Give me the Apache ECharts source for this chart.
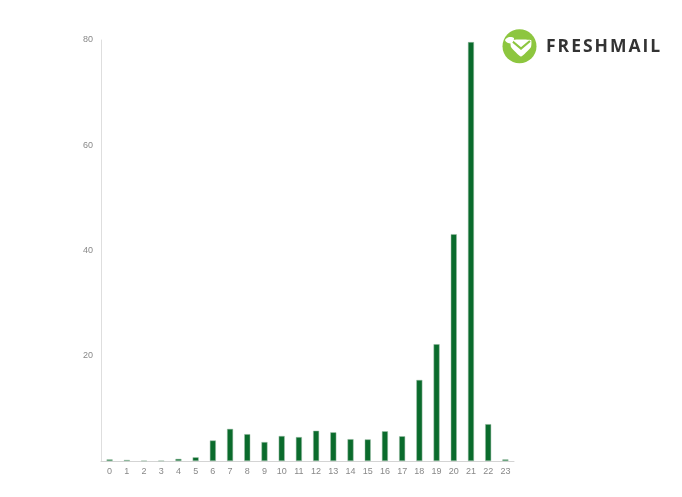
<!DOCTYPE html>
<html><head><meta charset="utf-8">
<script src="https://cdn.jsdelivr.net/npm/echarts@6/dist/echarts.min.js"></script>
<style>html,body{margin:0;padding:0;background:#fff}#c{width:682px;height:497px}</style>
</head><body><div id="c"></div>
<script>
const hours = ['0','1','2','3','4','5','6','7','8','9','10','11','12','13','14','15','16','17','18','19','20','21','22','23'];
const values = [0.3,0.2,0.05,0.05,0.4,0.7,3.9,6.1,5.1,3.6,4.75,4.55,5.75,5.45,4.15,4.1,5.65,4.7,15.4,22.2,43.1,79.6,7.0,0.3];
const yTicks = [0,20,40,60,80];
const brand = 'FRESHMAIL';

// logo text laid out letter by letter with extra spacing
const ctx = document.createElement('canvas').getContext('2d');
const logoFont = 'bold 17.5px "Open Sans"';
ctx.font = logoFont;
const letters = [];
let lx = 546;
for (const ch of brand) {
  letters.push({type:'text',style:{x:lx,y:47,text:ch,fill:'#333',font:logoFont,verticalAlign:'middle',align:'left'}});
  lx += ctx.measureText(ch).width + 2;
}

const chart = echarts.init(document.getElementById('c'), null, {renderer:'canvas'});
chart.setOption({
  animation:false,
  backgroundColor:'#fff',
  grid:{left:101,right:168,top:40,bottom:36},
  xAxis:{type:'category',data:hours,
    axisLine:{lineStyle:{color:'#d4d4d4',width:1}},
    axisTick:{show:false},
    axisLabel:{color:'#888',fontSize:9,margin:6,fontFamily:'Helvetica, Arial, sans-serif'}},
  yAxis:{type:'value',min:yTicks[0],max:yTicks[yTicks.length-1],interval:20,
    axisLine:{show:true,lineStyle:{color:'#dedede',width:1}},
    axisTick:{show:false},
    splitLine:{show:false},
    axisLabel:{color:'#888',fontSize:9,margin:8,fontFamily:'Helvetica, Arial, sans-serif',
      formatter:v=> v===0?'':String(v)}},
  series:[{type:'bar',data:values,barWidth:6,
    itemStyle:{color:'#0a6b2c',borderColor:'#9fbfa8',borderWidth:0.5}}],
  graphic:[
    {type:'circle',shape:{cx:519.5,cy:46.3,r:17},style:{fill:'#8dc63f'}},
    {type:'polygon',shape:{points:[[511,40],[531,40],[531,47],[521,56.5],[511,47]],smooth:0.15},style:{fill:'#fff'}},
    {type:'polyline',shape:{points:[[512,41],[521,48.5],[530,41]]},style:{stroke:'#8dc63f',lineWidth:2.2,fill:null}},
    {type:'polygon',shape:{points:[[505,40],[509,37],[514,38],[512,43],[508,43]],smooth:0.3},style:{fill:'#fff'}},
    ...letters
  ]
});
</script></body></html>
